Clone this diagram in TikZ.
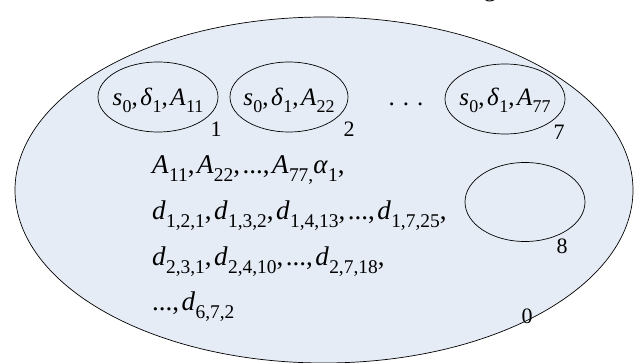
\documentclass[tikz,border=0pt]{standalone}
\usepackage{fontspec}
\setmainfont{Liberation Serif}
\usetikzlibrary{shapes.geometric}
\definecolor{bgfill}{RGB}{230,236,246}
\newcommand{\iv}[2]{\textit{#1}\kern0.3pt\raisebox{-0.27em}{\scalebox{0.72}{#2}}}
\newcommand{\cm}{,\kern2.5pt}
\tikzset{
  bigell/.style={ellipse, draw, line width=0.7pt, fill=bgfill, inner sep=0pt},
  smallell/.style={ellipse, draw, line width=0.7pt, inner sep=0pt, minimum width=120pt, minimum height=70pt},
  numlbl/.style={font=\fontsize{22}{24}\selectfont, inner sep=0pt},
  txt/.style={font=\fontsize{27}{30}\selectfont, inner sep=0pt, anchor=base west},
  eltxt/.style={font=\fontsize{25}{30}\selectfont, inner sep=0pt}
}
\begin{document}
\begin{tikzpicture}[x=1pt,y=-1pt]
\useasboundingbox (0,0) rectangle (638,363);
\node[bigell, minimum width=618pt, minimum height=346pt] (big) at (324,190) {};
\node[font=\fontsize{25}{30}\selectfont, inner sep=0pt, anchor=base] (g) at (490,-3) {g};
\node[smallell] (e1) at (158,97) {};
\node[smallell, minimum width=118pt] (e2) at (289,97) {};
\node[smallell] (e7) at (505,99) {};
\node[smallell, minimum height=79pt] (e8) at (525,202) {};
\node[eltxt, anchor=base] (t1) at (158,106) {\iv{s}{0}\cm\iv{δ}{1}\cm\iv{A}{11}};
\node[eltxt, anchor=base] (t2) at (289,106) {\iv{s}{0}\cm\iv{δ}{1}\cm\iv{A}{22}};
\node[eltxt, anchor=base] (t7) at (505,106) {\iv{s}{0}\cm\iv{δ}{1}\cm\iv{A}{77}};
\node[eltxt, anchor=base] (dots) at (406,106) {.\kern8pt.\kern8pt.};
\node[numlbl] (l1) at (216,129) {1};
\node[numlbl] (l2) at (349,129) {2};
\node[numlbl] (l7) at (559,132) {7};
\node[numlbl] (l8) at (562,246) {8};
\node[numlbl] (l0) at (527,316) {0};
\node[txt] (r1) at (152,174) {\iv{A}{11}\cm\iv{A}{22}\cm...\cm\iv{A}{77,}\iv{α}{1}\cm};
\node[txt] (r2) at (152,220) {\iv{d}{1,2,1}\cm\iv{d}{1,3,2}\cm\iv{d}{1,4,13}\cm...\cm\iv{d}{1,7,25}\cm};
\node[txt] (r3) at (152,266) {\iv{d}{2,3,1}\cm\iv{d}{2,4,10}\cm...\cm\iv{d}{2,7,18}\cm};
\node[txt] (r4) at (152,311) {...\cm\iv{d}{6,7,2}};
\end{tikzpicture}
\end{document}
